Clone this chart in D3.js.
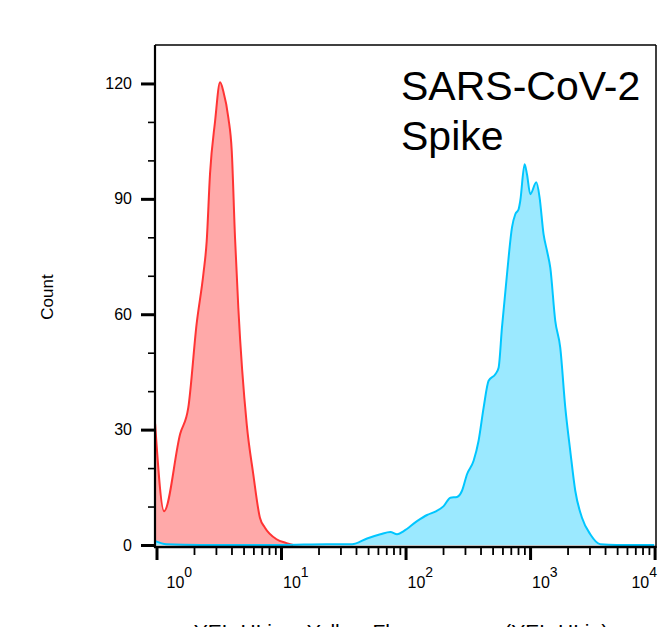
<!DOCTYPE html>
<html>
<head>
<meta charset="utf-8">
<script src="https://cdn.jsdelivr.net/npm/d3@7"></script>
<style>
  html, body { margin: 0; padding: 0; background: #fff; }
  svg { display: block; }
  text { font-family: "Liberation Sans", Arial, sans-serif; fill: #000; }
</style>
</head>
<body>
<svg id="chart" width="658" height="627"></svg>
<script>
// ---- data ----
const redX = [0.975, 1.15, 1.55, 1.80, 2.10, 2.38, 2.53, 2.69, 2.95, 3.24, 3.44, 3.78, 4.02, 4.27, 4.54, 5.30, 5.98, 6.77, 7.43, 9.2, 11.1, 12.5];
const redY = [31.5, 8.8, 28.9, 35.7, 57.5, 70.5, 79, 96.5, 110, 120.3, 118, 111, 102.5, 80, 61.7, 31.5, 18.5, 7.1, 4.5, 1.5, 0.5, 0];

const blueX = [0.98, 1.2, 2.25, 9.9, 23.4, 37.2, 49.1, 62.8, 75.5, 85.5,
               96.6, 123.6, 148.9, 173.5, 202.3, 229.1, 259.1, 284, 311.6, 352,
               386, 423.6, 464.5, 526, 558.8, 594.5, 652.6, 715.9, 760.8, 808.8,
               834.2, 903.8, 944.3, 1004, 1122, 1192, 1283, 1367, 1453, 1593,
               1747, 1918, 2102, 2306, 2611, 3043, 3659, 4980, 9930];
const blueY = [1.0, 0.2, 0, 0, 0.2, 0.2, 1.7, 2.8, 3.4, 2.8,
               3.6, 6.2, 7.8, 8.7, 10.1, 12.3, 12.5, 14.1, 18.4, 21.9,
               27.1, 35.7, 42.7, 44.4, 46.1, 56.5, 70.4, 82.6, 86, 87.3,
               89.5, 99, 96.4, 91.2, 94.3, 90.4, 80.8, 76.5, 72.1, 58.3,
               51.3, 35.7, 24.5, 14.1, 7.1, 2.8, 0.2, 0, 0];

const xTickExps = [0, 1, 2, 3, 4];
const yMajorTicks = [0, 30, 60, 90, 120];
const yMinorTicks = [10, 20, 40, 50, 70, 80, 100, 110];
const titleLines = ["SARS-CoV-2", "Spike"];
const xAxisTitle = "YEL-HLin :: Yellow Fluorescence (YEL-HLin)";
const yAxisTitle = "Count";

// ---- layout ----
const frame = { left: 155, right: 656, top: 45, bottom: 545 };
const svg = d3.select("#chart");

const x = d3.scaleLog().domain([1, 1e4]).range([156.5, 654.6]);
const y = d3.scaleLinear().domain([0, 130]).range([frame.bottom, frame.top]);

svg.append("defs").append("clipPath").attr("id", "plotclip")
  .append("rect")
  .attr("x", frame.left).attr("y", frame.top - 2)
  .attr("width", frame.right - frame.left).attr("height", frame.bottom - frame.top + 4);

const plot = svg.append("g").attr("clip-path", "url(#plotclip)");

const red = redX.map((v, i) => ({ x: v, y: redY[i] }));
const blue = blueX.map((v, i) => ({ x: v, y: blueY[i] }));

const area = d3.area().x(d => x(d.x)).y0(y(0)).y1(d => y(d.y)).curve(d3.curveMonotoneX);
const line = d3.line().x(d => x(d.x)).y(d => y(d.y)).curve(d3.curveMonotoneX);

plot.append("path").datum(red).attr("d", area).attr("fill", "#ffa9a9");
plot.append("path").datum(blue).attr("d", area).attr("fill", "#9be9ff");
plot.append("path").datum(red).attr("d", line).attr("fill", "none")
  .attr("stroke", "#ff3434").attr("stroke-width", 2).attr("stroke-linejoin", "round");
plot.append("path").datum(blue).attr("d", line).attr("fill", "none")
  .attr("stroke", "#00c6ff").attr("stroke-width", 2).attr("stroke-linejoin", "round");

// ---- frame ----
svg.append("line").attr("x1", frame.left).attr("x2", frame.right).attr("y1", frame.top).attr("y2", frame.top)
  .attr("stroke", "#000").attr("stroke-width", 1.5);
svg.append("line").attr("x1", frame.right).attr("x2", frame.right).attr("y1", frame.top).attr("y2", frame.bottom + 3)
  .attr("stroke", "#000").attr("stroke-width", 1.5);
svg.append("line").attr("x1", frame.left).attr("x2", frame.left).attr("y1", frame.top).attr("y2", frame.bottom + 3)
  .attr("stroke", "#000").attr("stroke-width", 2.2);
svg.append("line").attr("x1", frame.left - 1).attr("x2", frame.right).attr("y1", frame.bottom + 2).attr("y2", frame.bottom + 2)
  .attr("stroke", "#000").attr("stroke-width", 2.6);

// ---- y axis ----
const yAxisMajor = d3.axisLeft(y).tickValues(yMajorTicks).tickSize(14).tickPadding(9).tickFormat(d3.format("d"));
const gy = svg.append("g").attr("transform", `translate(${frame.left},0)`).call(yAxisMajor);
gy.select(".domain").remove();
gy.selectAll(".tick line").attr("stroke", "#000").attr("stroke-width", 3);
gy.selectAll(".tick text").attr("font-size", 16).attr("font-family", "Liberation Sans, Arial, sans-serif").attr("fill", "#000");

const yAxisMinor = d3.axisLeft(y).tickValues(yMinorTicks).tickSize(7).tickFormat("");
const gym = svg.append("g").attr("transform", `translate(${frame.left},0)`).call(yAxisMinor);
gym.select(".domain").remove();
gym.selectAll(".tick line").attr("stroke", "#000").attr("stroke-width", 1.6);

// ---- x axis ----
const xMajorVals = xTickExps.map(e => Math.pow(10, e));
const xMinorVals = [];
xTickExps.slice(0, -1).forEach(e => { for (let m = 2; m <= 9; m++) xMinorVals.push(m * Math.pow(10, e)); });

const xAxisMajor = d3.axisBottom(x).tickValues(xMajorVals).tickSize(14).tickFormat("");
const gx = svg.append("g").attr("transform", `translate(0,${frame.bottom + 1})`).call(xAxisMajor);
gx.select(".domain").remove();
gx.selectAll(".tick line").attr("stroke", "#000").attr("stroke-width", 3);

const xAxisMinor = d3.axisBottom(x).tickValues(xMinorVals).tickSize(9).tickFormat("");
const gxm = svg.append("g").attr("transform", `translate(0,${frame.bottom + 1})`).call(xAxisMinor);
gxm.select(".domain").remove();
gxm.selectAll(".tick line").attr("stroke", "#000").attr("stroke-width", 1.8);

// x tick labels: "10" with superscript exponent
const labelG = svg.append("g");
xTickExps.forEach((e, i) => {
  const px = x(Math.pow(10, e));
  const t = labelG.append("text").attr("y", 588).attr("font-size", 16);
  t.append("tspan").text("10");
  t.append("tspan").attr("dy", -11).attr("font-size", 14).text(String(e));
  let startX = px + 2;
  if (i === 0) startX = px + 10;
  const w = t.node().getComputedTextLength();
  if (startX + w > frame.right + 1) startX = frame.right + 1 - w;
  t.attr("x", startX);
});

// ---- axis titles ----
svg.append("text").attr("transform", "translate(53,297) rotate(-90)")
  .attr("text-anchor", "middle").attr("font-size", 17).text(yAxisTitle);
svg.append("text").attr("x", 401).attr("y", 639).attr("text-anchor", "middle")
  .attr("font-size", 21).text(xAxisTitle);

// ---- annotation ----
titleLines.forEach((s, i) => {
  svg.append("text").attr("x", 401).attr("y", 100 + i * 50).attr("font-size", 41).text(s);
});
</script>
</body>
</html>
